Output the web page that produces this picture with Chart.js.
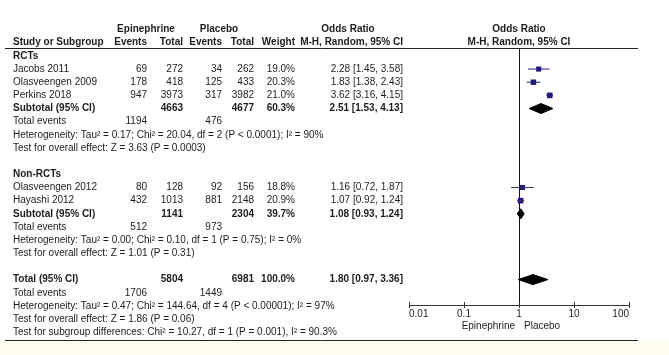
<!DOCTYPE html>
<html>
<head>
<meta charset="utf-8">
<script src="https://cdn.jsdelivr.net/npm/chart.js@4.4.1/dist/chart.umd.min.js"></script>
<style>
  html, body { margin: 0; padding: 0; background: #fff; }
  #wrap { position: relative; width: 669px; height: 355px; }
</style>
</head>
<body>
<div id="wrap"><canvas id="forest"></canvas></div>
<script>
// studies (row = position in the table, 0 = "RCTs" heading)
const studyNames = ["Jacobs 2011", "Olasveengen 2009", "Perkins 2018", "Olasveengen 2012", "Hayashi 2012"];
const studyRows = [1, 2, 3, 10, 11];
const epiEvents = [69, 178, 947, 80, 432];
const epiTotal = [272, 418, 3973, 128, 1013];
const plaEvents = [34, 125, 317, 92, 881];
const plaTotal = [262, 433, 3982, 156, 2148];
const weights = [19.0, 20.3, 21.0, 18.8, 20.9];
const orEst = [2.28, 1.83, 3.62, 1.16, 1.07];
const orLow = [1.45, 1.38, 3.16, 0.72, 0.92];
const orHigh = [3.58, 2.43, 4.15, 1.87, 1.24];
const ciColors = ["#1e1e78", "#1e1e78", "#1e1e78", "#3a3a3a", "#3a3a3a"];

// pooled estimates
const poolNames = ["Subtotal (95% CI)", "Subtotal (95% CI)", "Total (95% CI)"];
const poolRows = [4, 12, 17];
const poolEpiTotal = [4663, 1141, 5804];
const poolPlaTotal = [4677, 2304, 6981];
const poolWeights = [60.3, 39.7, 100.0];
const poolEst = [2.51, 1.08, 1.80];
const poolLow = [1.53, 0.93, 0.97];
const poolHigh = [4.13, 1.24, 3.36];

// total events lines
const eventRows = [5, 13, 18];
const eventEpi = [1194, 512, 1706];
const eventPla = [476, 973, 1449];

const groupNames = ["RCTs", "Non-RCTs"];
const groupRows = [0, 9];

const noteRows = [6, 7, 14, 15, 19, 20, 21];
const noteTexts = [
  "Heterogeneity: Tau\u00B2 = 0.17; Chi\u00B2 = 20.04, df = 2 (P < 0.0001); I\u00B2 = 90%",
  "Test for overall effect: Z = 3.63 (P = 0.0003)",
  "Heterogeneity: Tau\u00B2 = 0.00; Chi\u00B2 = 0.10, df = 1 (P = 0.75); I\u00B2 = 0%",
  "Test for overall effect: Z = 1.01 (P = 0.31)",
  "Heterogeneity: Tau\u00B2 = 0.47; Chi\u00B2 = 144.64, df = 4 (P < 0.00001); I\u00B2 = 97%",
  "Test for overall effect: Z = 1.86 (P = 0.06)",
  "Test for subgroup differences: Chi\u00B2 = 10.27, df = 1 (P = 0.001), I\u00B2 = 90.3%",
];

const axisTicks = [0.01, 0.1, 1, 10, 100];
const tickLabels = ["0.01", "0.1", "1", "10", "100"];
const favoursLeft = "Epinephrine";
const favoursRight = "Placebo";

(() => {
  const FONT = "'Liberation Sans', Arial, sans-serif";
  const INK = "#1c1c1c";
  const NAVY = "#1a1a8c";
  const COL = { name: 13, epiEv: 147, epiTot: 183, plaEv: 222, plaTot: 254, weight: 295, or: 403 };
  const DIAMOND_H = 0.38; // half height in rows

  function fmtOR(e, l, h) {
    return `${e.toFixed(2)} [${l.toFixed(2)}, ${h.toFixed(2)}]`;
  }

  function ciDatasets() {
    return studyRows.map((row, i) => ({
      type: "scatter",
      data: [{ x: orLow[i], y: row }, { x: orHigh[i], y: row }],
      showLine: true,
      borderColor: ciColors[i],
      borderWidth: 1,
      pointRadius: 0,
    }));
  }

  function diamondDatasets() {
    return poolRows.map((row, i) => ({
      type: "scatter",
      data: [
        { x: poolLow[i], y: row },
        { x: poolEst[i], y: row - DIAMOND_H },
        { x: poolHigh[i], y: row },
        { x: poolEst[i], y: row + DIAMOND_H },
        { x: poolLow[i], y: row },
      ],
      showLine: true,
      fill: "shape",
      backgroundColor: "#000",
      borderColor: "#000",
      borderWidth: 1,
      pointRadius: 0,
    }));
  }

  const tablePlugin = {
    id: "forestTable",
    beforeDraw(chart) {
      const { ctx, width, height } = chart;
      ctx.save();
      ctx.fillStyle = "#fff";
      ctx.fillRect(0, 0, width, height);
      ctx.fillStyle = "#fffcef";
      ctx.fillRect(0, 341, width, height - 341);
      ctx.restore();
    },
    afterDraw(chart) {
      const { ctx } = chart;
      const y = chart.scales.y;
      const x = chart.scales.x;
      const py = (r) => y.getPixelForValue(r);

      function text(str, tx, row, align, bold) {
        ctx.font = `${bold ? "bold " : ""}10px ${FONT}`;
        ctx.textAlign = align || "left";
        ctx.textBaseline = "middle";
        ctx.fillStyle = INK;
        ctx.fillText(String(str), tx, py(row));
      }

      ctx.save();

      // header
      text("Epinephrine", 146, -2, "center", true);
      text("Placebo", 219, -2, "center", true);
      text("Odds Ratio", 348, -2, "center", true);
      text("Odds Ratio", x.getPixelForValue(1), -2, "center", true);
      text("Study or Subgroup", COL.name, -1, "left", true);
      text("Events", COL.epiEv, -1, "right", true);
      text("Total", COL.epiTot, -1, "right", true);
      text("Events", COL.plaEv, -1, "right", true);
      text("Total", COL.plaTot, -1, "right", true);
      text("Weight", COL.weight, -1, "right", true);
      text("M-H, Random, 95% CI", COL.or, -1, "right", true);
      text("M-H, Random, 95% CI", x.getPixelForValue(1), -1, "center", true);

      groupRows.forEach((r, i) => text(groupNames[i], COL.name, r, "left", true));

      studyRows.forEach((r, i) => {
        text(studyNames[i], COL.name, r);
        text(epiEvents[i], COL.epiEv, r, "right");
        text(epiTotal[i], COL.epiTot, r, "right");
        text(plaEvents[i], COL.plaEv, r, "right");
        text(plaTotal[i], COL.plaTot, r, "right");
        text(weights[i].toFixed(1) + "%", COL.weight, r, "right");
        text(fmtOR(orEst[i], orLow[i], orHigh[i]), COL.or, r, "right");
      });

      poolRows.forEach((r, i) => {
        text(poolNames[i], COL.name, r, "left", true);
        text(poolEpiTotal[i], COL.epiTot, r, "right", true);
        text(poolPlaTotal[i], COL.plaTot, r, "right", true);
        text(poolWeights[i].toFixed(1) + "%", COL.weight, r, "right", true);
        text(fmtOR(poolEst[i], poolLow[i], poolHigh[i]), COL.or, r, "right", true);
      });

      eventRows.forEach((r, i) => {
        text("Total events", COL.name, r);
        text(eventEpi[i], COL.epiEv, r, "right");
        text(eventPla[i], COL.plaEv, r, "right");
      });

      noteRows.forEach((r, i) => text(noteTexts[i], COL.name, r));

      // rules above and below the table
      ctx.strokeStyle = "#222";
      ctx.lineWidth = 1;
      ctx.beginPath();
      ctx.moveTo(5, Math.round(chart.chartArea.top) + 0.5);
      ctx.lineTo(638, Math.round(chart.chartArea.top) + 0.5);
      ctx.moveTo(5, 340.5);
      ctx.lineTo(638, 340.5);
      ctx.stroke();

      // upper half of the axis tick marks
      const ay = Math.round(chart.chartArea.bottom);
      ctx.strokeStyle = "#333";
      ctx.beginPath();
      x.ticks.forEach((t) => {
        const tx = Math.round(x.getPixelForValue(t.value)) + 0.5;
        ctx.moveTo(tx, ay - 3);
        ctx.lineTo(tx, ay);
      });
      ctx.stroke();

      // favours labels under the axis
      const one = x.getPixelForValue(1);
      ctx.font = `10px ${FONT}`;
      ctx.fillStyle = INK;
      ctx.textBaseline = "middle";
      ctx.textAlign = "right";
      ctx.fillText(favoursLeft, one - 4, 326);
      ctx.textAlign = "left";
      ctx.fillText(favoursRight, one + 5, 326);

      ctx.restore();
    },
  };

  const datasets = [
    ...ciDatasets(),
    {
      type: "scatter",
      data: studyRows.map((r, i) => ({ x: orEst[i], y: r })),
      pointStyle: "rect",
      pointRadius: weights.map((w) => w * 0.19),
      backgroundColor: NAVY,
      borderColor: NAVY,
      borderWidth: 0,
    },
    ...diamondDatasets(),
  ];

  new Chart(document.getElementById("forest"), {
    type: "scatter",
    data: { datasets },
    plugins: [tablePlugin],
    options: {
      responsive: true,
      maintainAspectRatio: false,
      animation: false,
      devicePixelRatio: 1,
      layout: { padding: { left: 409, right: 40, top: 48, bottom: 0 } },
      plugins: { legend: { display: false }, tooltip: { enabled: false } },
      scales: {
        x: {
          type: "logarithmic",
          position: "bottom",
          min: 0.01,
          max: 100,
          afterBuildTicks: (s) => { s.ticks = axisTicks.map((v) => ({ value: v })); },
          afterFit: (s) => { s.height = 50; },
          ticks: {
            autoSkip: false,
            maxRotation: 0,
            align: "inner",
            padding: 0,
            color: INK,
            font: { family: FONT, size: 10 },
            callback: (v) => tickLabels[axisTicks.indexOf(v)] ?? "",
          },
          grid: {
            color: (c) => (c.tick && c.tick.value === 1 ? "#111" : "rgba(0,0,0,0)"),
            tickColor: "#333",
            tickLength: 3,
            lineWidth: 1,
          },
          border: { display: true, color: "#333", width: 1 },
        },
        y: {
          type: "linear",
          display: false,
          reverse: true,
          min: -0.6,
          max: 18.93,
        },
      },
    },
  });
})();
</script>
</body>
</html>
